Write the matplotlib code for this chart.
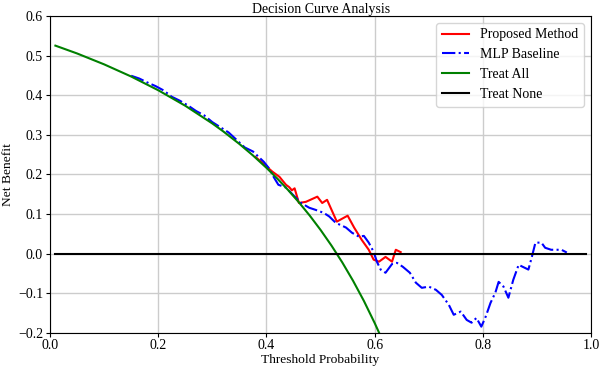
import matplotlib
matplotlib.use("Agg")
import matplotlib.pyplot as plt

plt.rcParams['font.family'] = ['Liberation Serif', 'DejaVu Serif']
plt.rcParams['font.size'] = 10
plt.rcParams['xtick.major.size'] = 3
plt.rcParams['ytick.major.size'] = 3
plt.rcParams['xtick.major.pad'] = 1.5
plt.rcParams['ytick.major.pad'] = 2

# Treat All curve
all_x = [0.01, 0.05, 0.10, 0.15, 0.20, 0.25, 0.30, 0.32, 0.35, 0.375, 0.40, 0.42,
         0.44, 0.46, 0.48, 0.50, 0.52, 0.54, 0.56, 0.58, 0.60, 0.61]
all_y = [0.525, 0.5053, 0.4778, 0.4471, 0.4125, 0.3733, 0.3286, 0.3088, 0.2769, 0.248,
         0.2167, 0.1897, 0.1607, 0.1296, 0.0962, 0.06, 0.0208, -0.0217, -0.0682,
         -0.1190, -0.175, -0.2051]

# MLP Baseline
mlp_x = [0.150, 0.165, 0.180, 0.195, 0.210, 0.225, 0.240, 0.255, 0.270, 0.285, 0.300,
         0.315, 0.330, 0.345, 0.360, 0.375, 0.385, 0.395, 0.405, 0.414, 0.422, 0.436,
         0.448, 0.464, 0.479, 0.490, 0.506, 0.516, 0.528, 0.547, 0.558, 0.571, 0.580,
         0.589, 0.598, 0.604, 0.611, 0.620, 0.632, 0.641, 0.652, 0.665, 0.676, 0.687,
         0.700, 0.713, 0.724, 0.737, 0.746, 0.759, 0.770, 0.779, 0.788, 0.797, 0.805,
         0.814, 0.823, 0.829, 0.838, 0.847, 0.856, 0.866, 0.875, 0.884, 0.890, 0.897,
         0.908, 0.915, 0.926, 0.945, 0.955]
mlp_y = [0.449, 0.442, 0.432, 0.423, 0.412, 0.396, 0.386, 0.374, 0.360, 0.349, 0.332,
         0.319, 0.306, 0.287, 0.268, 0.258, 0.245, 0.232, 0.215, 0.192, 0.174, 0.167,
         0.150, 0.128, 0.116, 0.111, 0.103, 0.094, 0.078, 0.066, 0.053, 0.043, 0.045,
         0.028, 0.005, -0.020, -0.040, -0.048, -0.026, -0.023, -0.033, -0.048, -0.073,
         -0.086, -0.083, -0.091, -0.104, -0.129, -0.154, -0.146, -0.167, -0.174, -0.162,
         -0.184, -0.159, -0.124, -0.098, -0.071, -0.083, -0.111, -0.066, -0.028, -0.034,
         -0.040, -0.010, 0.028, 0.028, 0.015, 0.010, 0.010, 0.003]

# Proposed Method
prop_x = [0.380, 0.400, 0.411, 0.424, 0.436, 0.442, 0.447, 0.452, 0.460, 0.473, 0.494,
          0.503, 0.512, 0.530, 0.550, 0.562, 0.576, 0.589, 0.598, 0.608, 0.620, 0.632,
          0.639, 0.648]
prop_y = [0.244, 0.220, 0.207, 0.194, 0.174, 0.168, 0.160, 0.165, 0.128, 0.131, 0.144,
          0.128, 0.136, 0.081, 0.096, 0.066, 0.035, 0.010, -0.015, -0.020, -0.008,
          -0.020, 0.010, 0.004]

none_x = [0.01, 0.99]
none_y = [0.0, 0.0]

fig = plt.figure(figsize=(6, 3.7), dpi=100)
ax = fig.add_axes([0.0833, 0.1, 0.902, 0.857])

ax.plot(prop_x, prop_y, color='red', lw=1.5, label='Proposed Method')
ax.plot(mlp_x, mlp_y, color='blue', lw=1.5, ls='-.', label='MLP Baseline')
ax.plot(all_x, all_y, color='green', lw=1.5, label='Treat All')
ax.plot(none_x, none_y, color='black', lw=1.5, label='Treat None')

ax.set_xlim(0, 1)
ax.set_ylim(-0.2, 0.6)
ax.set_xticks([0.0, 0.2, 0.4, 0.6, 0.8, 1.0])
ax.set_yticks([-0.2, -0.1, 0.0, 0.1, 0.2, 0.3, 0.4, 0.5, 0.6])
ax.grid(True, color='#cccccc', lw=1)
ax.set_axisbelow(True)
ax.set_xlabel('Threshold Probability', labelpad=1, fontsize=9.7)
ax.set_ylabel('Net Benefit', fontsize=9.7)
ax.yaxis.set_label_coords(-0.066, 0.5)
ax.set_title('Decision Curve Analysis', pad=1.5, fontsize=10)
ax.legend(loc='upper right')

fig.savefig('out.png', dpi=100)
